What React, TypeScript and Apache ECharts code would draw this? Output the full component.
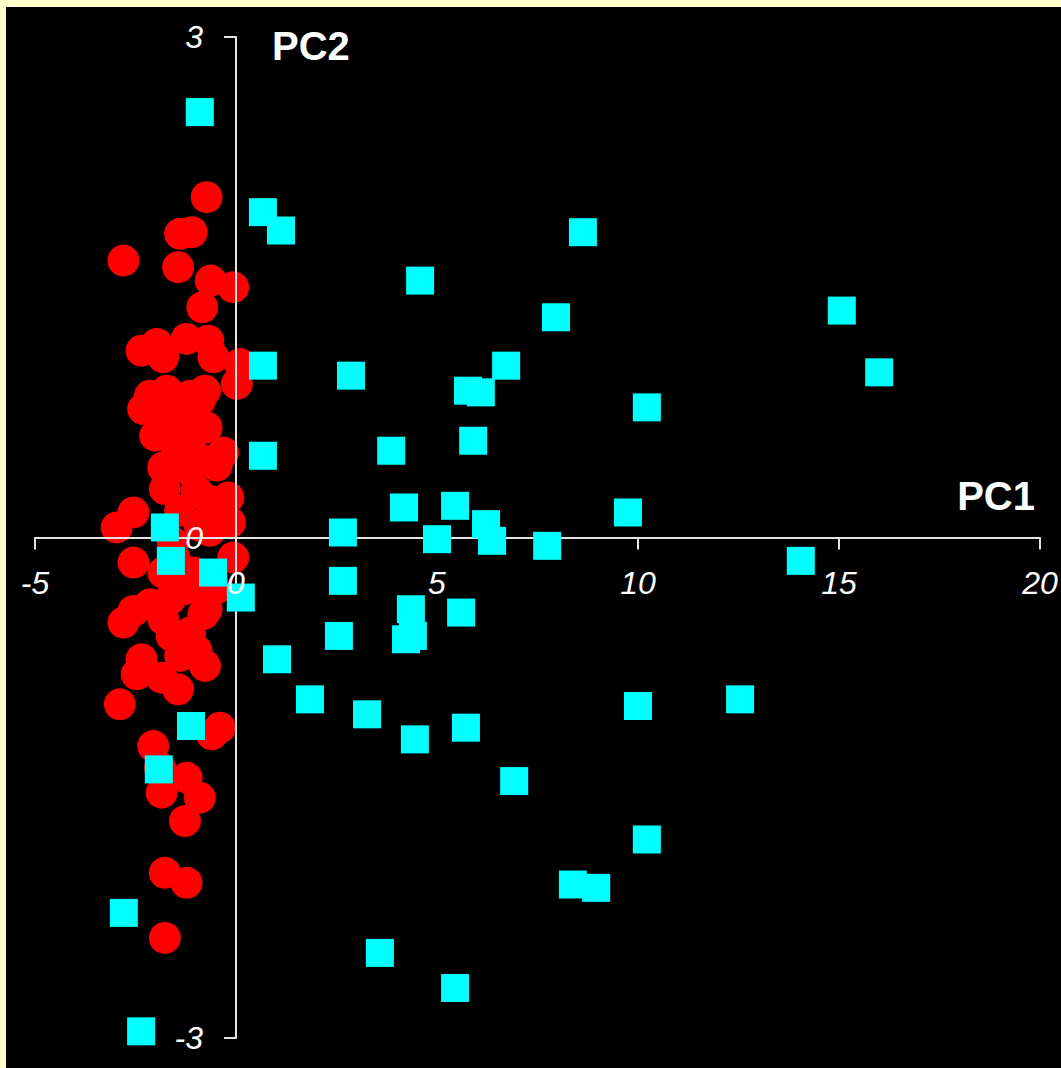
import { useEffect, useRef } from "react";
import * as echarts from "echarts";

// Axis ticks (value axes crossing at the origin)
const xTicks = [-5, 0, 5, 10, 15, 20];
const yTicks = [-3, 0, 3];
const xTitle = "PC1";
const yTitle = "PC2";

// Group drawn as red circles: [PC1, PC2]
const redPoints: [number, number][] = [
  [-0.73, 2.04], [-1.39, 1.82], [-1.1, 1.83], [-2.8, 1.66], [-1.44, 1.62],
  [-0.63, 1.54], [-0.07, 1.5], [-0.84, 1.38], [-2.35, 1.12], [-1.97, 1.16],
  [-1.81, 1.08], [-1.23, 1.19], [-0.69, 1.18], [-0.56, 1.08], [0.1, 1.04],
  [0.02, 0.92], [-0.77, 0.88], [-1.72, 0.88], [-2.14, 0.85], [-2.31, 0.77],
  [-1.48, 0.78], [-0.9, 0.82], [-1.72, 0.7], [-0.73, 0.66], [-2.01, 0.61],
  [-1.48, 0.6], [-0.32, 0.51], [-1.81, 0.42], [-0.81, 0.46], [-1.48, 0.51],
  [-0.48, 0.43], [-1.77, 0.29], [-0.98, 0.28], [-0.19, 0.24], [-2.55, 0.15],
  [-2.97, 0.06], [-0.9, 0.07], [-0.15, 0.09], [-1.57, -0.03], [-2.55, -0.15],
  [-0.07, -0.12], [-1.81, -0.21], [-1.06, -0.21], [-1.64, -0.37], [-0.73, -0.43],
  [-2.55, -0.44], [-2.8, -0.51], [-1.81, -0.49], [-0.81, -0.46], [-1.6, -0.59],
  [-1.14, -0.57], [-0.98, -0.68], [-2.35, -0.73], [-2.47, -0.82], [-1.85, -0.84],
  [-1.44, -0.91], [-0.77, -0.77], [-2.89, -1.0], [-0.4, -1.14], [-0.6, -1.18],
  [-2.06, -1.25], [-1.89, -1.38], [-1.23, -1.44], [-1.85, -1.53], [-0.9, -1.56],
  [-1.27, -1.7], [-1.77, -2.01], [-1.23, -2.07], [-1.77, -2.4],
  [-1.27, 0.7], [-1.14, 0.4], [-0.65, 0.22], [-1.39, 0.16], [-0.65, 0.04],
  [-1.27, -0.31], [-0.9, -0.28], [-2.14, -0.4], [-0.52, -0.31], [-1.39, -0.71],
  [-1.52, -0.13], [-1.14, 0.85], [-1.14, 0.55],
];

// Group drawn as cyan squares: [PC1, PC2]
const cyanPoints: [number, number][] = [
  [-0.9, 2.55], [0.67, 1.95], [1.12, 1.84], [8.63, 1.83], [4.58, 1.54],
  [15.07, 1.36], [7.96, 1.32], [16.0, 0.99], [0.67, 1.03], [2.86, 0.97],
  [6.72, 1.03], [5.77, 0.88], [6.09, 0.87], [10.22, 0.78], [5.9, 0.58],
  [3.86, 0.52], [0.67, 0.49], [4.18, 0.18], [5.45, 0.19], [9.75, 0.15],
  [6.22, 0.08], [2.66, 0.03], [-1.77, 0.06], [5.0, -0.01], [6.37, -0.02],
  [7.74, -0.05], [14.05, -0.14], [-1.62, -0.14], [-0.57, -0.21], [2.66, -0.26],
  [0.12, -0.36], [4.35, -0.43], [5.6, -0.45], [4.4, -0.59], [4.23, -0.61],
  [2.56, -0.59], [1.02, -0.73], [1.84, -0.97], [12.54, -0.97], [3.26, -1.06],
  [10.0, -1.01], [-1.12, -1.13], [5.72, -1.14], [4.45, -1.21], [-1.92, -1.39],
  [6.92, -1.46], [10.22, -1.81], [8.38, -2.08], [8.96, -2.1], [-2.79, -2.25],
  [3.58, -2.49], [5.45, -2.7], [-2.36, -2.96],
];

const FONT = "Arial, 'Liberation Sans', sans-serif";

// Plot rectangle inside the chart element
const PLOT = { left: 29, right: 21, top: 30, bottom: 30 };
const CHART_W = 1055;
const CHART_H = 1061;

export default function App() {
  const ref = useRef<HTMLDivElement>(null);

  useEffect(() => {
    const chart = echarts.init(ref.current!, null, { renderer: "svg" });

    const xMin = xTicks[0];
    const xMax = xTicks[xTicks.length - 1];
    const yMin = yTicks[0];
    const yMax = yTicks[yTicks.length - 1];

    // pixel position of the origin inside the chart element
    const plotW = CHART_W - PLOT.left - PLOT.right;
    const plotH = CHART_H - PLOT.top - PLOT.bottom;
    const originX = PLOT.left + ((0 - xMin) / (xMax - xMin)) * plotW;
    const originY = PLOT.top + ((yMax - 0) / (yMax - yMin)) * plotH;

    const lineStyle = { color: "#e4e4e4", width: 2 };
    const labelText = {
      color: "#ffffff",
      fontSize: 32,
      fontStyle: "italic" as const,
      fontFamily: FONT,
      showMinLabel: true,
      showMaxLabel: true,
    };
    const base = { containLabel: false, outerBoundsMode: "none" };
    const xRange = {
      type: "value" as const,
      min: xMin,
      max: xMax,
      interval: xTicks[1] - xTicks[0],
      splitLine: { show: false },
    };
    const yRange = {
      type: "value" as const,
      min: yMin,
      max: yMax,
      interval: yTicks[1] - yTicks[0],
      splitLine: { show: false },
    };

    chart.setOption({
      animation: false,
      backgroundColor: "#000000",
      grid: [
        // 0: markers and axis lines crossing at the origin
        { ...base, ...PLOT },
        // 1: PC2 tick labels, left edge on x = 0
        { ...base, ...PLOT, left: originX },
        // 2: PC1 tick labels, bottom edge on y = 0
        { ...base, ...PLOT, bottom: CHART_H - originY },
      ],
      xAxis: [
        {
          ...xRange,
          gridIndex: 0,
          position: "bottom",
          z: 2,
          axisLine: { show: true, onZero: true, lineStyle },
          axisTick: { show: true, inside: false, length: 12, lineStyle },
          axisLabel: { show: false },
        },
        { ...xRange, gridIndex: 1, show: false },
        {
          ...xRange,
          gridIndex: 2,
          position: "bottom",
          z: 5,
          axisLine: { show: false, onZero: false },
          axisTick: { show: false },
          axisLabel: { ...labelText, margin: 29 },
        },
      ],
      yAxis: [
        {
          ...yRange,
          gridIndex: 0,
          position: "left",
          z: 2,
          axisLine: { show: true, onZero: true, lineStyle },
          axisTick: { show: true, inside: false, length: 12, lineStyle },
          axisLabel: { show: false },
        },
        {
          ...yRange,
          gridIndex: 1,
          position: "left",
          z: 5,
          axisLine: { show: false, onZero: false },
          axisTick: { show: false },
          axisLabel: { ...labelText, margin: 33 },
        },
        { ...yRange, min: 0, gridIndex: 2, show: false },
      ],
      series: [
        {
          type: "scatter",
          xAxisIndex: 0,
          yAxisIndex: 0,
          z: 1,
          symbol: "circle",
          symbolSize: 32,
          itemStyle: { color: "#ff0000", opacity: 1 },
          data: redPoints,
        },
        {
          type: "scatter",
          xAxisIndex: 0,
          yAxisIndex: 0,
          z: 3,
          symbol: "rect",
          symbolSize: 28,
          itemStyle: { color: "#00ffff", opacity: 1 },
          data: cyanPoints,
        },
      ],
      graphic: [
        {
          type: "text",
          z: 10,
          x: 266,
          y: 39,
          style: {
            text: yTitle,
            fill: "#ffffff",
            font: `bold 40px ${FONT}`,
            align: "left",
            verticalAlign: "middle",
          },
        },
        {
          type: "text",
          z: 10,
          x: 1029,
          y: 489,
          style: {
            text: xTitle,
            fill: "#ffffff",
            font: `bold 40px ${FONT}`,
            align: "right",
            verticalAlign: "middle",
          },
        },
      ],
    });

    return () => chart.dispose();
  }, []);

  return (
    <div
      style={{
        position: "absolute",
        left: 0,
        top: 0,
        width: 1061,
        height: 1068,
        background: "#ffffcc",
      }}
    >
      <div
        ref={ref}
        style={{ position: "absolute", left: 6, top: 7, width: CHART_W, height: CHART_H }}
      />
    </div>
  );
}
